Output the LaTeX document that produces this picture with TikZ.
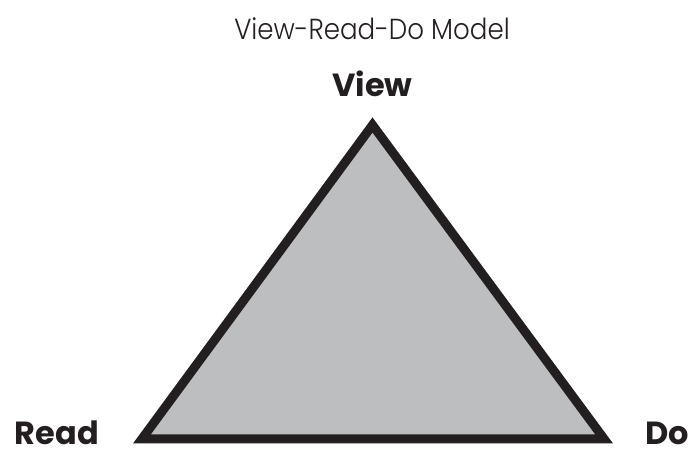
\documentclass[tikz,border=0pt]{standalone}
\usepackage{fontspec}
\setmainfont{Poppins}
\newfontfamily\titlefont{Poppins}[UprightFont=* Light,FakeStretch=0.9]
\definecolor{vrdgray}{HTML}{BCBEC0}
\definecolor{vrdblack}{HTML}{231F20}
\begin{document}
\begin{tikzpicture}[x=1pt,y=1pt,
  corner/.style={font=\fontsize{32}{32}\selectfont\bfseries,text=vrdblack,inner sep=0pt,anchor=base}]
\useasboundingbox(0,0)rectangle(690,453);
\coordinate(apex)at(372.5,328);
\coordinate(left)at(142,14.2);
\coordinate(right)at(604,14.2);
\draw[line width=9pt,miter limit=10,fill=vrdgray,draw=vrdblack](left)--(apex)--(right)--cycle;
\node[inner sep=0pt,anchor=base,text=vrdblack,font=\titlefont\fontsize{29}{29}\selectfont](title)at(372,413){View-Read-Do Model};
\node[corner](view)at(372.5,356){View};
\node[corner](read)at(57,8.5){Read};
\node[corner](do)at(667,8.5){Do};
\end{tikzpicture}
\end{document}
